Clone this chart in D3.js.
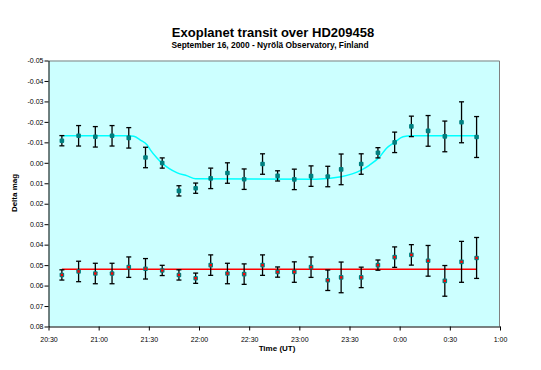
<!DOCTYPE html>
<html>
<head>
<meta charset="utf-8">
<script src="https://cdn.jsdelivr.net/npm/d3@7"></script>
<style>
  body { margin: 0; background: #fff; }
  svg { font-family: "Liberation Sans", Arial, sans-serif; }
  .axis text { font-size: 7px; fill: #000; }
  .axis path, .axis line { stroke: #000; }
</style>
</head>
<body>
<div id="chart"></div>
<script>
// observation times (UT)
var obsTimes = ["20:38", "20:48", "20:58", "21:08", "21:18", "21:28", "21:38", "21:48", "21:58",
  "22:07", "22:17", "22:27", "22:38", "22:47", "22:57", "23:07", "23:17", "23:25", "23:37",
  "23:47", "23:57", "0:07", "0:17", "0:27", "0:37", "0:46"];

// HD209458 delta mag
var transitMag = [-0.0108, -0.0132, -0.0127, -0.0132, -0.0122, -0.0026, 0.0001, 0.0137, 0.0124,
  0.0076, 0.0050, 0.0080, 0.0006, 0.0064, 0.0081, 0.0065, 0.0067, 0.0032, 0.0006,
  -0.0049, -0.0100, -0.0178, -0.0156, -0.0129, -0.0198, -0.0126];

// comparison star delta mag
var checkMag = [0.0548, 0.0531, 0.0541, 0.0541, 0.0510, 0.0518, 0.0526, 0.0548, 0.0564,
  0.0500, 0.0541, 0.0544, 0.0500, 0.0534, 0.0534, 0.0510, 0.0574, 0.0560, 0.0560,
  0.0500, 0.0461, 0.0450, 0.0479, 0.0577, 0.0484, 0.0465];

// error bar half-widths
var magErrors = [0.0025, 0.005, 0.005, 0.005, 0.005, 0.005, 0.0025, 0.0025, 0.0025,
  0.005, 0.005, 0.005, 0.005, 0.0025, 0.005, 0.005, 0.005, 0.0075, 0.005,
  0.0025, 0.005, 0.005, 0.0075, 0.0075, 0.01, 0.01];

// transit model curve
var modelTimes = ["20:38", "21:18", "21:21", "21:25", "21:29", "21:31", "21:35", "21:38", "21:42",
  "21:47", "21:53", "21:58", "23:10", "23:25", "23:37", "23:42", "23:48", "23:52", "23:57",
  "0:02", "0:07", "0:46"];
var modelMag = [-0.0132, -0.0132, -0.0130, -0.0111, -0.0087, -0.0062, -0.0022, 0.0003, 0.0027,
  0.0049, 0.0064, 0.0078, 0.0080, 0.0068, 0.0036, 0.0011, -0.0029, -0.0070, -0.0100,
  -0.0127, -0.0132, -0.0132];

// constant level of the comparison star
var checkLevel = 0.0520;

var yTicks = [-0.05, -0.04, -0.03, -0.02, -0.01, 0, 0.01, 0.02, 0.03, 0.04, 0.05, 0.06, 0.07, 0.08];

function parseUT(s) {
  var parts = s.split(":");
  var h = +parts[0];
  var m = +parts[1];
  var day = h < 12 ? 17 : 16;
  return new Date(Date.UTC(2000, 8, day, h, m));
}

var W = 541, H = 370;
var margin = { top: 60.5, left: 48.5, right: 41, bottom: 43.5 };
var width = W - margin.left - margin.right;
var height = H - margin.top - margin.bottom;

var svg = d3.select("#chart").append("svg")
  .attr("width", W)
  .attr("height", H);

svg.append("text")
  .attr("x", 273).attr("y", 37)
  .attr("text-anchor", "middle")
  .attr("font-size", "13px")
  .attr("font-weight", "bold")
  .text("Exoplanet transit over HD209458");

svg.append("text")
  .attr("x", 270).attr("y", 48)
  .attr("text-anchor", "middle")
  .attr("font-size", "8.4px")
  .attr("font-weight", "bold")
  .text("September 16, 2000 - Nyrölä Observatory, Finland");

var g = svg.append("g")
  .attr("transform", "translate(" + margin.left + "," + margin.top + ")");

var x = d3.scaleUtc()
  .domain([parseUT("20:30"), parseUT("1:00")])
  .range([0, width]);

var y = d3.scaleLinear()
  .domain([-0.05, 0.08])
  .range([0, height]);

// plot area
g.append("rect")
  .attr("width", width)
  .attr("height", height)
  .attr("fill", "#ccffff");

g.append("path")
  .attr("d", "M0,0.5H" + (width - 0.5) + "V" + height)
  .attr("fill", "none")
  .attr("stroke", "#808080")
  .attr("stroke-width", 1);

var xAxis = d3.axisBottom(x)
  .ticks(d3.utcMinute.every(30))
  .tickFormat(d3.utcFormat("%-H:%M"))
  .tickSize(4)
  .tickSizeOuter(0);

var fmt = d3.format(".2f");
var yAxis = d3.axisLeft(y)
  .tickValues(yTicks)
  .tickFormat(function (d) { return fmt(d).replace("\u2212", "-"); })
  .tickSize(4)
  .tickSizeOuter(0);

g.append("g")
  .attr("class", "x-axis axis")
  .attr("transform", "translate(0," + height + ")")
  .call(xAxis)
  .selectAll("text")
  .attr("dy", "1.2em");

g.append("g")
  .attr("class", "y-axis axis")
  .call(yAxis)
  .selectAll("text")
  .attr("x", -5);

svg.append("text")
  .attr("x", 277).attr("y", 351)
  .attr("text-anchor", "middle")
  .attr("font-size", "8px")
  .attr("font-weight", "bold")
  .text("Time (UT)");

svg.append("text")
  .attr("transform", "translate(17,193) rotate(-90)")
  .attr("text-anchor", "middle")
  .attr("font-size", "8px")
  .attr("font-weight", "bold")
  .text("Delta mag");

// model lines
var model = modelTimes.map(function (t, i) {
  return { time: parseUT(t), mag: modelMag[i] };
});

var line = d3.line()
  .x(function (d) { return x(d.time); })
  .y(function (d) { return y(d.mag); })
  .curve(d3.curveMonotoneX);

g.append("path")
  .datum(model)
  .attr("d", line)
  .attr("fill", "none")
  .attr("stroke", "#00ffff")
  .attr("stroke-width", 1.5);

var first = parseUT(obsTimes[0]);
var last = parseUT(obsTimes[obsTimes.length - 1]);

g.append("line")
  .attr("x1", x(first)).attr("x2", x(last))
  .attr("y1", y(checkLevel)).attr("y2", y(checkLevel))
  .attr("stroke", "#ff0000")
  .attr("stroke-width", 1.5);

function drawSeries(values, inner) {
  var data = obsTimes.map(function (t, i) {
    return { time: parseUT(t), mag: values[i], err: magErrors[i] };
  });

  var pts = g.append("g").selectAll("g")
    .data(data)
    .enter()
    .append("g");

  pts.append("line")
    .attr("x1", function (d) { return x(d.time); })
    .attr("x2", function (d) { return x(d.time); })
    .attr("y1", function (d) { return y(d.mag - d.err); })
    .attr("y2", function (d) { return y(d.mag + d.err); })
    .attr("stroke", "#000")
    .attr("stroke-width", 1.3);

  [-1, 1].forEach(function (s) {
    pts.append("line")
      .attr("x1", function (d) { return x(d.time) - 2.5; })
      .attr("x2", function (d) { return x(d.time) + 2.5; })
      .attr("y1", function (d) { return y(d.mag + s * d.err); })
      .attr("y2", function (d) { return y(d.mag + s * d.err); })
      .attr("stroke", "#000")
      .attr("stroke-width", 1.3);
  });

  pts.append("rect")
    .attr("x", function (d) { return x(d.time) - 2.3; })
    .attr("y", function (d) { return y(d.mag) - 2.3; })
    .attr("width", 4.6)
    .attr("height", 4.6)
    .attr("rx", 1)
    .attr("fill", "#008080");

  if (inner) {
    pts.append("rect")
      .attr("x", function (d) { return x(d.time) - 1.2; })
      .attr("y", function (d) { return y(d.mag) - 1.2; })
      .attr("width", 2.4)
      .attr("height", 2.4)
      .attr("fill", inner);
  }
}

drawSeries(transitMag, null);
drawSeries(checkMag, "#ff0000");
</script>
</body>
</html>
